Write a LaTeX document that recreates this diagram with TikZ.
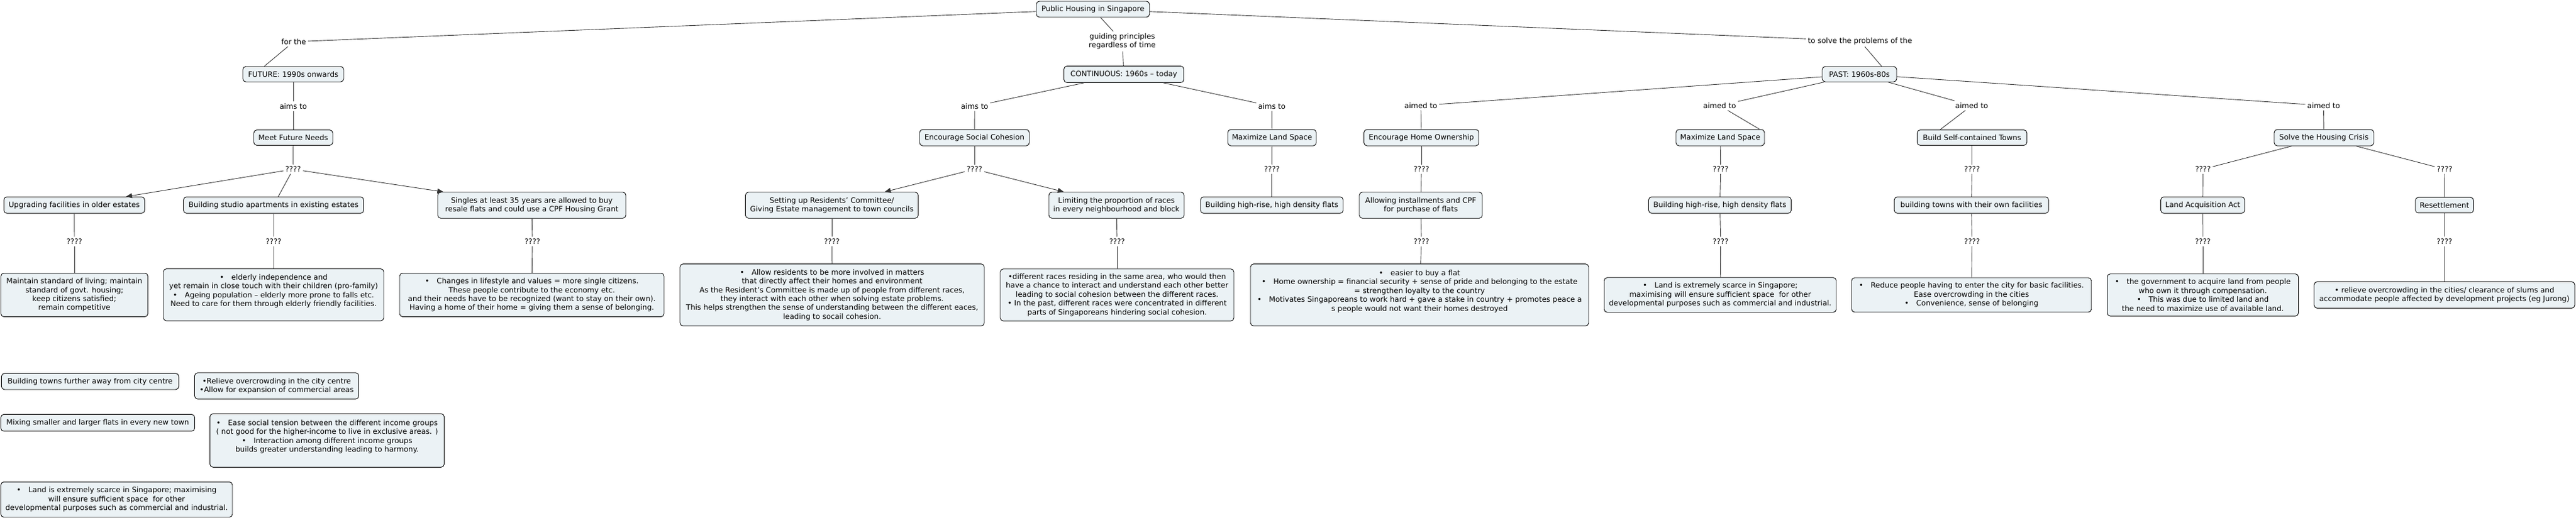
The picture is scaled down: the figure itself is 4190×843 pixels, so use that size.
\documentclass[tikz,border=0pt]{standalone}
\usepackage{fontspec}
\setmainfont{DejaVu Sans}
\usetikzlibrary{arrows.meta}
\definecolor{boxfill}{RGB}{235,242,245}
\newcommand{\mybul}{•\hspace{12pt}}
\begin{document}
\begin{tikzpicture}[x=1pt,y=-1pt,
  every node/.style={font=\fontsize{12pt}{14.4pt}\selectfont},
  box/.style={draw=black, fill=boxfill, rounded corners=5pt, align=center, inner xsep=5pt, inner ysep=6pt, line width=0.9pt},
  lbl/.style={inner sep=3pt, align=center},
  conn/.style={draw=black!80, line width=0.9pt},
  arr/.style={conn, -{Triangle[length=10pt,width=8pt]}}]
\useasboundingbox (0,0) rectangle (4190,843);

% ---- top
\node[box, minimum width=184pt, minimum height=26pt] (pub) at (1777.7,15) {Public Housing in Singapore};

% ---- FUTURE branch
\node[lbl] (forthe) at (477.7,67.9) {for the};
\node[box, minimum width=164pt, minimum height=25pt] (fut) at (477,120.7) {FUTURE: 1990s onwards};
\node[lbl] (aims1) at (477,172.9) {aims to};
\node[box, minimum width=128.5pt, minimum height=25pt] (mfn) at (477,224) {Meet Future Needs};
\node[lbl] (q1) at (476.8,275.4) {????};
\node[box, minimum width=229pt, minimum height=26.7pt] (upg) at (120.8,333.8) {Upgrading facilities in older estates};
\node[box, minimum width=293pt, minimum height=26.7pt] (stu) at (445,333.8) {Building studio apartments in existing estates};
\node[box, minimum width=306pt, minimum height=42.5pt] (sgl) at (865,334) {Singles at least 35 years are allowed to buy\\ resale flats and could use a CPF Housing Grant};
\node[lbl] (q2) at (121,392.9) {????};
\node[lbl] (q3) at (445,392.9) {????};
\node[lbl] (q4) at (866,392.9) {????};
\node[box, minimum width=239pt, minimum height=71pt] (mnt) at (121,480) {Maintain standard of living; maintain\\ standard of govt. housing;\\ keep citizens satisfied;\\ remain competitive};
\node[box, minimum width=358.5pt, minimum height=84.6pt] (eld) at (445,479.8) {\mybul elderly independence and\\ yet remain in close touch with their children (pro-family)\\ \mybul Ageing population – elderly more prone to falls etc.\\ Need to care for them through elderly friendly facilities.\\ \mbox{}};
\node[box, minimum width=430pt, minimum height=71pt] (chg) at (865,480) {\mybul Changes in lifestyle and values = more single citizens.\\ These people contribute to the economy etc.\\ and their needs have to be recognized (want to stay on their own).\\ Having a home of their home = giving them a sense of belonging.};

% ---- CONTINUOUS branch
\node[lbl] (guid) at (1825.4,67.1) {guiding principles\\ regardless of time};
\node[box, minimum width=195pt, minimum height=26.8pt] (cont) at (1828,121) {CONTINUOUS: 1960s – today};
\node[lbl] (aims2) at (1585.3,172.9) {aims to};
\node[box, minimum width=178.5pt, minimum height=26.4pt] (esc) at (1585,224) {Encourage Social Cohesion};
\node[lbl] (q5) at (1585,275.4) {????};
\node[box, minimum width=281pt, minimum height=42.5pt] (set) at (1353,334) {Setting up Residents’ Committee/\\ Giving Estate management to town councils};
\node[box, minimum width=220pt, minimum height=42.5pt] (lim) at (1816,334) {Limiting the proportion of races\\ in every neighbourhood and block};
\node[lbl] (q6) at (1353,392.9) {????};
\node[lbl] (q7) at (1817,392.9) {????};
\node[box, minimum width=495pt, minimum height=100.7pt] (allw) at (1353.5,480) {\mybul Allow residents to be more involved in matters\\ that directly affect their homes and environment\\ As the Resident's Committee is made up of people from different races,\\ they interact with each other when solving estate problems.\\ This helps strengthen the sense of understanding between the different eaces,\\ leading to socail cohesion.};
\node[box, minimum width=380pt, minimum height=84.6pt] (dif) at (1817,480) {•different races residing in the same area, who would then\\ have a chance to interact and understand each other better\\ leading to social cohesion between the different races.\\ • In the past, different races were concentrated in different\\ parts of Singaporeans hindering social cohesion.};
\node[lbl] (aims3) at (2068.75,172.9) {aims to};
\node[box, minimum width=144pt, minimum height=26.4pt] (mls) at (2069,224) {Maximize Land Space};
\node[lbl] (q8) at (2068.75,275.4) {????};
\node[box, minimum width=232pt, minimum height=26.7pt] (bhra) at (2068.75,333.8) {Building high-rise, high density flats};

% ---- PAST branch
\node[lbl] (tosolve) at (3025.4,66.8) {to solve the problems of the};
\node[box, minimum width=121pt, minimum height=25pt] (past) at (3024.5,120.7) {PAST: 1960s-80s};
\node[lbl] (aimed1) at (2311,171.8) {aimed to};
\node[box, minimum width=187pt, minimum height=26.4pt] (eho) at (2312,224) {Encourage Home Ownership};
\node[lbl] (q9) at (2312,275.4) {????};
\node[box, minimum width=200pt, minimum height=42.5pt] (ins) at (2311,334) {Allowing installments and CPF\\ for purchase of flats};
\node[lbl] (q10) at (2312,392.9) {????};
\node[box, minimum width=550pt, minimum height=100.7pt] (easy) at (2309,480) {\mybul easier to buy a flat\\ \mybul Home ownership = financial security + sense of pride and belonging to the estate\\ = strengthen loyalty to the country\\ \mybul Motivates Singaporeans to work hard + gave a stake in country + promotes peace a\\ s people would not want their homes destroyed\\ \mbox{}};

\node[lbl] (aimed2) at (2797,171.8) {aimed to};
\node[box, minimum width=144pt, minimum height=26.4pt] (mlp) at (2798,224) {Maximize Land Space};
\node[lbl] (q11) at (2798.7,275.4) {????};
\node[box, minimum width=232pt, minimum height=26.7pt] (bhrb) at (2797.5,333.8) {Building high-rise, high density flats};
\node[lbl] (q12) at (2798.7,392.9) {????};
\node[box, minimum width=377.5pt, minimum height=56.5pt] (lsc) at (2798,480) {\mybul Land is extremely scarce in Singapore;\\ maximising will ensure sufficient space\ \ for other\\ developmental purposes such as commercial and industrial.};

\node[lbl] (aimed3) at (3207,171.8) {aimed to};
\node[box, minimum width=178.6pt, minimum height=25pt] (bst) at (3207.6,224) {Build Self-contained Towns};
\node[lbl] (q13) at (3207.6,275.4) {????};
\node[box, minimum width=251pt, minimum height=26.7pt] (btf) at (3206.6,333.8) {building towns with their own facilities};
\node[lbl] (q14) at (3207.6,392.9) {????};
\node[box, minimum width=390pt, minimum height=56pt] (red) at (3206.7,480) {\mybul Reduce people having to enter the city for basic facilities.\\ Ease overcrowding in the cities\\ \mybul Convenience, sense of belonging};

\node[lbl] (aimed4) at (3779.5,171.8) {aimed to};
\node[box, minimum width=162pt, minimum height=26.4pt] (shc) at (3780,224) {Solve the Housing Crisis};
\node[lbl] (q15) at (3583.2,275.4) {????};
\node[lbl] (q16) at (3976.2,275.4) {????};
\node[box, minimum width=136.5pt, minimum height=26.7pt] (laa) at (3582.8,333.8) {Land Acquisition Act};
\node[box, minimum width=94.6pt, minimum height=25.4pt] (res) at (3976,333.8) {Resettlement};
\node[lbl] (q17) at (3583,392.9) {????};
\node[lbl] (q18) at (3976,392.9) {????};
\node[box, minimum width=311pt, minimum height=68.6pt] (lae) at (3583,480) {\mybul the government to acquire land from people\\ who own it through compensation.\\ \mybul This was due to limited land and\\ the need to maximize use of available land.};
\node[box, minimum width=424pt, minimum height=43pt] (rse) at (3976,480) {• relieve overcrowding in the cities/ clearance of slums and\\ accommodate people affected by development projects (eg Jurong)};

% ---- loose boxes bottom left
\node[box, minimum width=288.4pt, minimum height=26.3pt] (bla) at (146.6,620.8) {Building towns further away from city centre};
\node[box, minimum width=267pt, minimum height=42.6pt] (blb) at (450,628) {•Relieve overcrowding in the city centre\\ •Allow for expansion of commercial areas};
\node[box, minimum width=315.3pt, minimum height=27.3pt] (blc) at (159,688) {Mixing smaller and larger flats in every new town};
\node[box, minimum width=381pt, minimum height=87pt] (bld) at (532,716.8) {\mybul Ease social tension between the different income groups\\ ( not good for the higher-income to live in exclusive areas. )\\ \mybul Interaction among different income groups\\ builds greater understanding leading to harmony.\\ \mbox{}};
\node[box, minimum width=376.6pt, minimum height=57.4pt] (ble) at (189.7,813) {\mybul Land is extremely scarce in Singapore; maximising\\ will ensure sufficient space\ \ for other\\ developmental purposes such as commercial and industrial.};

% ---- connectors: FUTURE
\draw[conn] (pub) -- (forthe);
\draw[conn] (forthe) -- ([xshift=-47pt]fut.north);
\draw[conn] (fut) -- (aims1);
\draw[conn] (aims1) -- (mfn);
\draw[conn] (mfn) -- (q1);
\draw[arr] (q1) -- (upg);
\draw[conn] (q1) -- (stu);
\draw[arr] (q1) -- (sgl);
\draw[conn] (upg) -- (q2);
\draw[conn] (q2) -- (mnt);
\draw[conn] (stu) -- (q3);
\draw[conn] (q3) -- (eld);
\draw[conn] (sgl) -- (q4);
\draw[conn] (q4) -- (chg);

% ---- connectors: CONTINUOUS
\draw[conn] (pub) -- (guid);
\draw[conn] (guid) -- (cont);
\draw[conn] (cont) -- (aims2);
\draw[conn] (aims2) -- (esc);
\draw[conn] (esc) -- (q5);
\draw[arr] (q5) -- (set);
\draw[arr] (q5) -- (lim);
\draw[conn] (set) -- (q6);
\draw[conn] (q6) -- (allw);
\draw[conn] (lim) -- (q7);
\draw[conn] (q7) -- (dif);
\draw[conn] (cont) -- (aims3);
\draw[conn] (aims3) -- (mls);
\draw[conn] (mls) -- (q8);
\draw[conn] (q8) -- (bhra);

% ---- connectors: PAST
\draw[conn] (pub) -- (tosolve);
\draw[conn] (tosolve) -- ([xshift=36pt]past.north);
\draw[conn] (past) -- (aimed1);
\draw[conn] (aimed1) -- (eho);
\draw[conn] (eho) -- (q9);
\draw[conn] (q9) -- (ins);
\draw[conn] (ins) -- (q10);
\draw[conn] (q10) -- (easy);
\draw[conn] (past) -- (aimed2);
\draw[conn] (aimed2) -- ([xshift=64pt]mlp.north);
\draw[conn] (mlp) -- (q11);
\draw[conn] (q11) -- (bhrb);
\draw[conn] (bhrb) -- (q12);
\draw[conn] (q12) -- (lsc);
\draw[conn] (past) -- (aimed3);
\draw[conn] (aimed3) -- ([xshift=-52pt]bst.north);
\draw[conn] (bst) -- (q13);
\draw[conn] (q13) -- (btf);
\draw[conn] (btf) -- (q14);
\draw[conn] (q14) -- (red);
\draw[conn] (past) -- (aimed4);
\draw[conn] (aimed4) -- (shc);
\draw[conn] (shc) -- (q15);
\draw[conn] (shc) -- (q16);
\draw[conn] (q15) -- (laa);
\draw[conn] (q16) -- (res);
\draw[conn] (laa) -- (q17);
\draw[conn] (q17) -- (lae);
\draw[conn] (res) -- (q18);
\draw[conn] (q18) -- (rse);
\end{tikzpicture}
\end{document}
